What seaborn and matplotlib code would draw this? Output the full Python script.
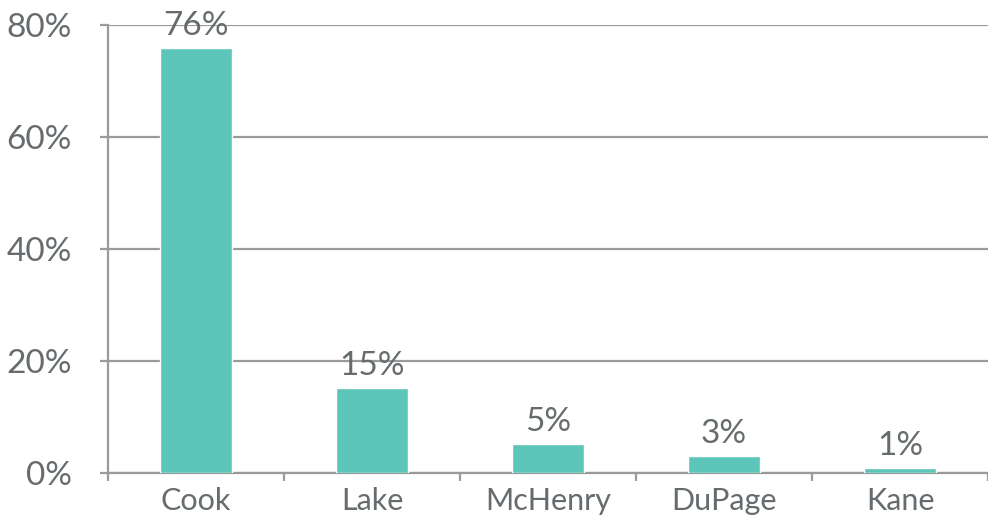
import matplotlib
matplotlib.use("Agg")
import matplotlib.pyplot as plt
import seaborn as sns
import pandas as pd
import numpy as np

counties = ["Cook", "Lake", "McHenry", "DuPage", "Kane"]
shares = [75.9, 15.2, 5.2, 3.0, 0.9]
labels = ["76%", "15%", "5%", "3%", "1%"]
yticks = [0, 20, 40, 60, 80]

sns.set_style("white")
plt.rcParams["font.family"] = ["Lato", "DejaVu Sans"]

df = pd.DataFrame({"County": counties, "Share": shares})

text_col = "#666b6e"
grid_col = "#9a9a9a"

fig = plt.figure(figsize=(9.88, 5.21), dpi=100)
ax = fig.add_axes([108 / 988, 48 / 521, 880 / 988, 448 / 521])

sns.barplot(data=df, x="County", y="Share", color="#5bc5ba", width=0.41,
            saturation=1, ax=ax, zorder=3)

ax.set_ylim(0, 80)
ax.set_xlim(-0.5, 4.5)
ax.set_yticks(yticks)
ax.set_yticklabels([f"{v}%" for v in yticks])
ax.yaxis.grid(True, color=grid_col, linewidth=1.6)
ax.set_axisbelow(True)

for s in ["top", "right"]:
    ax.spines[s].set_visible(False)
ax.spines["left"].set_color(grid_col)
ax.spines["left"].set_linewidth(1.6)
ax.spines["bottom"].set_color(grid_col)
ax.spines["bottom"].set_linewidth(1.6)

ax.tick_params(axis="y", length=6, width=1.6, color=grid_col, pad=20,
               labelsize=24, labelcolor=text_col, left=True)
ax.tick_params(axis="x", which="major", length=0, pad=10,
               labelsize=22, labelcolor=text_col)
ax.set_xticks(np.arange(-0.5, 5, 1), minor=True)
ax.tick_params(axis="x", which="minor", length=6, width=1.6,
               color=grid_col, bottom=True)

for i, (v, t) in enumerate(zip(shares, labels)):
    ax.annotate(t, (i, v), xytext=(0, 5), textcoords="offset points",
                ha="center", va="bottom", fontsize=24, color=text_col,
                zorder=4, annotation_clip=False)

ax.set_xlabel("")
ax.set_ylabel("")

fig.savefig("out.png", dpi=100)
